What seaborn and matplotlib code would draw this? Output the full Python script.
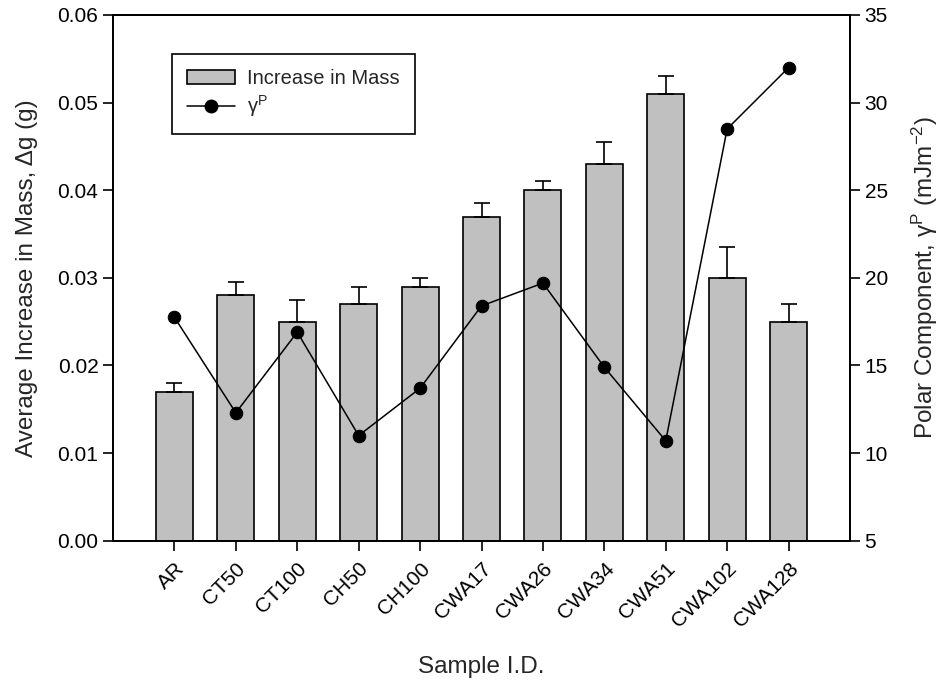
import numpy as np
import matplotlib
matplotlib.use("Agg")
import matplotlib.pyplot as plt
import seaborn as sns
from matplotlib.patches import Patch
from matplotlib.lines import Line2D

samples = ["AR", "CT50", "CT100", "CH50", "CH100", "CWA17", "CWA26",
           "CWA34", "CWA51", "CWA102", "CWA128"]
mass = [0.017, 0.028, 0.025, 0.027, 0.029, 0.037, 0.040, 0.043, 0.051, 0.030, 0.025]
mass_err = [0.001, 0.0015, 0.0025, 0.002, 0.001, 0.0015, 0.001, 0.0025, 0.002, 0.0035, 0.002]
gamma_p = [17.75, 12.3, 16.9, 11.0, 13.7, 18.4, 19.7, 14.9, 10.7, 28.5, 32.0]

left_ticks = [0.00, 0.01, 0.02, 0.03, 0.04, 0.05, 0.06]
right_ticks = [5, 10, 15, 20, 25, 30, 35]

sns.set_style("ticks")
plt.rcParams["font.family"] = ["Liberation Sans", "DejaVu Sans"]
plt.rcParams["mathtext.fontset"] = "custom"
plt.rcParams["mathtext.rm"] = "Liberation Sans"
plt.rcParams["mathtext.it"] = "Liberation Sans"
plt.rcParams["mathtext.default"] = "regular"

fs_tick = 15
fs_label = 17.5
fs_leg = 14.5
fig = plt.figure(figsize=(9.43, 6.84), dpi=100)
ax = fig.add_axes([113/943, 1 - 540.7/684, 737/943, 525.7/684])

x = np.arange(len(samples))
sns.barplot(x=samples, y=mass, color="#c0c0c0", edgecolor="black", linewidth=1.2,
            width=0.6, saturation=1, ax=ax, zorder=2)
ax.errorbar(x, mass, yerr=[np.zeros(len(mass)), mass_err], fmt="none",
            ecolor="black", elinewidth=1.2, capsize=6, capthick=1.2, zorder=3)

ax.set_xlim(-1, len(samples))
ax.set_ylim(0, 0.06)
ax.set_yticks(left_ticks)
ax.set_yticklabels([f"{t:.2f}" for t in left_ticks], fontsize=fs_tick)
ax.set_xticks(x)
ax.set_xticklabels(samples, rotation=45, ha="right", rotation_mode="anchor", fontsize=fs_tick)
ax.tick_params(axis="both", direction="out", length=7, width=1.2, colors="black", labelsize=fs_tick)
ax.tick_params(axis="x", pad=6)
ax.set_xlabel("Sample I.D.", fontsize=fs_label, labelpad=18)
ax.set_ylabel("Average Increase in Mass, Δg (g)", fontsize=fs_label, labelpad=14)
for s in ax.spines.values():
    s.set_linewidth(1.3)
    s.set_color("black")
    s.set_visible(True)

ax2 = ax.twinx()
sns.lineplot(x=x, y=gamma_p, ax=ax2, color="black", linewidth=1.1, marker="o",
             markersize=9, markeredgecolor="black", markerfacecolor="black", sort=False)
ax2.set_ylim(5, 35)
ax2.set_yticks(right_ticks)
ax2.set_yticklabels([str(t) for t in right_ticks], fontsize=fs_tick)
ax2.tick_params(axis="y", direction="out", length=7, width=1.2, colors="black", labelsize=fs_tick)
ax2.set_ylabel(r"Polar Component, $\gamma^{P}$ (mJm$^{-2}$)", fontsize=fs_label, labelpad=16)
for s in ax2.spines.values():
    s.set_linewidth(1.3)
    s.set_color("black")
    s.set_visible(True)

handles = [Patch(facecolor="#c0c0c0", edgecolor="black", linewidth=1.2),
           Line2D([0], [0], color="black", linewidth=1.1, marker="o", markersize=9)]
leg = ax2.legend(handles, ["Increase in Mass", r"$\gamma^{P}$"], loc="upper left",
                 bbox_to_anchor=(0.0797, 0.926), fontsize=fs_leg, frameon=True, fancybox=False,
                 edgecolor="black", handlelength=2.4, borderpad=0.75, labelspacing=0.25,
                 handletextpad=0.6, borderaxespad=0)
leg.get_frame().set_linewidth(1.2)
leg.get_frame().set_alpha(1)

fig.savefig("out.png", dpi=100)
